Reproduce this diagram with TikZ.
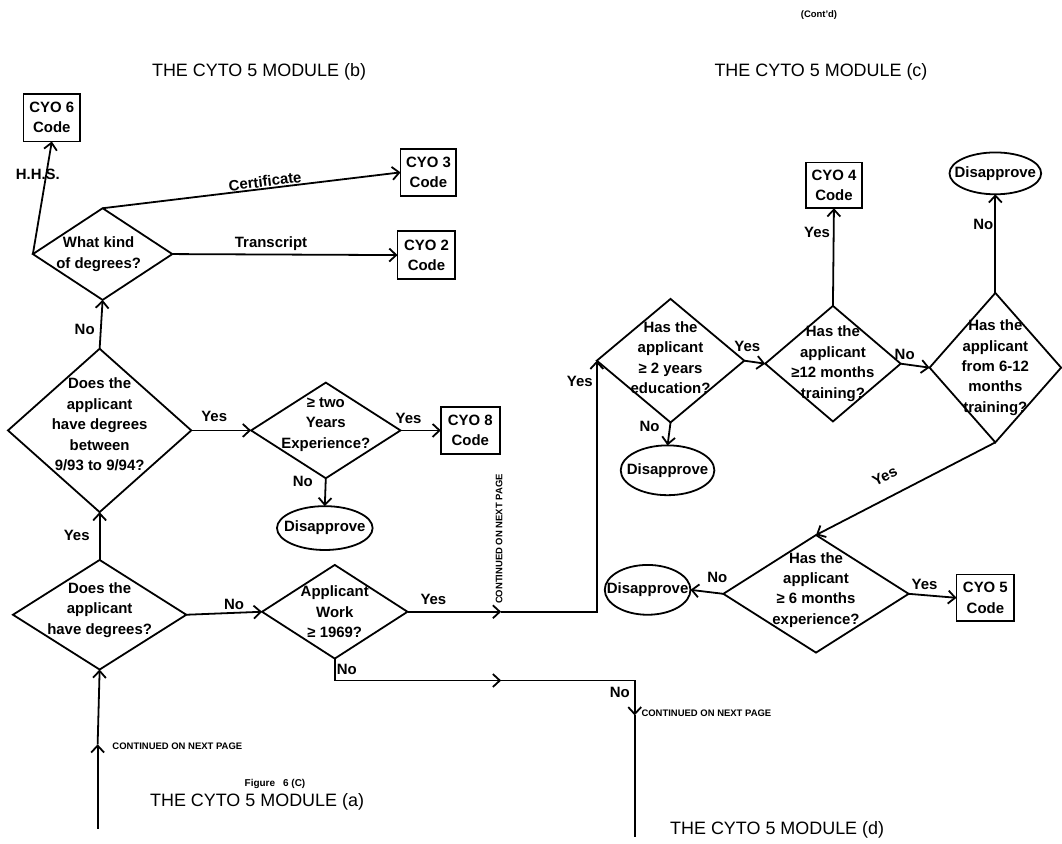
\documentclass[tikz,border=0pt]{standalone}
\usepackage{fontspec}
\setmainfont{Liberation Sans}
\usetikzlibrary{shapes.geometric,arrows.meta}

\begin{document}
\begin{tikzpicture}[x=1pt,y=-1pt,
  line width=1.8pt,
  flow/.style={-{Straight Barb[length=7pt,width=13pt]}},
  base/.style={draw, inner sep=0pt, outer sep=0pt},
  dia/.style={base, diamond},
  box/.style={base, rectangle},
  oval/.style={base, ellipse},
  txt/.style={font=\fontsize{15}{20.5}\selectfont\bfseries, align=center, inner sep=0pt},
  lbl/.style={font=\fontsize{15}{18}\selectfont\bfseries, inner sep=0pt},
  title/.style={font=\fontsize{18}{20}\selectfont, inner sep=0pt},
  tiny/.style={font=\fontsize{9.5}{10}\selectfont\bfseries, inner sep=0pt}
]
% page
\fill[white] (0,0) rectangle (1062,847);

% ---------- module (b) ----------
\node[title] (tb) at (260,72) {THE CYTO 5 MODULE (b)};
\node[dia, minimum width=140, minimum height=92,
  label={[txt, xshift=-4]center:{What kind\\of degrees?}}] (d1) at (103,255) {};
\node[box, minimum width=57, minimum height=48,
  label={[txt]center:{CYO 6\\Code}}] (c6) at (52,118) {};
\node[box, minimum width=56, minimum height=47,
  label={[txt]center:{CYO 3\\Code}}] (c3) at (430,173) {};
\node[box, minimum width=58, minimum height=48,
  label={[txt]center:{CYO 2\\Code}}] (c2) at (428,256) {};
\node[dia, minimum width=184, minimum height=164,
  label={[txt, yshift=6]center:{Does the\\applicant\\have degrees\\between\\9/93 to 9/94?}}] (d2) at (100,432) {};
\node[dia, minimum width=150, minimum height=96,
  label={[txt, yshift=6]center:{≥ two\\Years\\Experience?}}] (d3) at (327,432) {};
\node[box, minimum width=59, minimum height=47,
  label={[txt]center:{CYO 8\\Code}}] (c8) at (472,432) {};
\node[oval, minimum width=96, minimum height=44,
  label={[txt]center:{Disapprove}}] (r1) at (326,530) {};

% ---------- module (a) ----------
\node[dia, minimum width=174, minimum height=110,
  label={[txt, yshift=5]center:{Does the\\applicant\\have degrees?}}] (d4) at (100,617) {};
\node[dia, minimum width=146, minimum height=94,
  label={[txt]center:{Applicant\\Work\\≥ 1969?}}] (d5) at (336,614) {};
\node[tiny, font=\fontsize{10}{11}\selectfont\bfseries] (fig) at (276,787) {Figure\hspace{0.8em}6 (C)};
\node[title] (ta) at (258,805) {THE CYTO 5 MODULE (a)};

% ---------- module (c) ----------
\node[tiny] (cont) at (822,15) {(Cont'd)};
\node[title] (tc) at (824,72) {THE CYTO 5 MODULE (c)};
\node[dia, minimum width=148, minimum height=124,
  label={[txt, yshift=3]center:{Has the\\applicant\\≥ 2 years\\education?}}] (d6) at (673,362) {};
\node[oval, minimum width=94, minimum height=50,
  label={[txt]center:{Disapprove}}] (r2) at (670,472) {};
\node[dia, minimum width=136, minimum height=116,
  label={[txt]center:{Has the\\applicant\\≥12 months\\training?}}] (d7) at (836,365) {};
\node[box, minimum width=56, minimum height=46,
  label={[txt]center:{CYO 4\\Code}}] (c4) at (837,186) {};
\node[dia, minimum width=132, minimum height=150,
  label={[txt]center:{Has the\\applicant\\from 6-12\\months\\training?}}] (d8) at (999,369) {};
\node[oval, minimum width=92, minimum height=42,
  label={[txt]center:{Disapprove}}] (r3) at (999,174) {};
\node[dia, minimum width=186, minimum height=118,
  label={[txt, yshift=4]center:{Has the\\applicant\\≥ 6 months\\experience?}}] (d9) at (819,596) {};
\node[oval, minimum width=86, minimum height=50,
  label={[txt]center:{Disapprove}}] (r4) at (650,592) {};
\node[box, minimum width=58, minimum height=47,
  label={[txt]center:{CYO 5\\Code}}] (c5) at (989,600) {};

% ---------- module (d) ----------
\node[title] (td) at (780,833) {THE CYTO 5 MODULE (d)};

% ---------- connectors ----------
\draw[flow] (d1.west) -- (c6.south);
\draw[flow] (d1.north) -- (c3.west);
\draw[flow] (d1.east) -- (c2.west);
\draw[flow] (d2.north) -- (d1.south);
\draw[flow] (d2.east) -- (d3.west);
\draw[flow] (d3.east) -- (c8.west);
\draw[flow] (d3.south) -- (r1.north);
\draw[flow] (d4.north) -- (d2.south);
\draw[flow] (d4.east) -- (d5.west);

% entry from the previous page
\coordinate (ina) at (98,832);
\coordinate (inb) at (98,747);
\draw[flow] (ina) -- (inb);
\draw[flow] (inb) -- (d4.south);

% Applicant Work: Yes branch
\coordinate (yesmid) at (503,614);
\draw[flow] (d5.east) -- (yesmid);
\draw[flow] (yesmid) -| (d6.west);

% Applicant Work: No branch, continued on next page
\coordinate (nomid) at (503,683);
\coordinate (nodown) at (637,718);
\coordinate (noend) at (637,840);
\draw[flow] (d5.south) |- (nomid);
\draw[flow] (nomid) -| (nodown);
\draw (nodown) -- (noend);

\draw[flow] (d6.east) -- (d7.west);
\draw[flow] (d6.south) -- (r2.north);
\draw[flow] (d7.north) -- (c4.south);
\draw[flow] (d7.east) -- (d8.west);
\draw[flow] (d8.north) -- (r3.south);
\draw[flow] (d8.south) -- (d9.north);
\draw[flow] (d9.west) -- (r4.east);
\draw[flow] (d9.east) -- (c5.west);

% ---------- connector labels ----------
\node[lbl] (lhhs) at (38,175) {H.H.S.};
\node[lbl, rotate=7] (lcert) at (266,182) {Certificate};
\node[lbl] (ltrans) at (272,245) {Transcript};
\node[lbl] (lno1) at (85,331) {No};
\node[lbl] (lyes1) at (215,418) {Yes};
\node[lbl] (lyes2) at (410,420) {Yes};
\node[lbl] (lno2) at (304,483) {No};
\node[lbl] (lyes3) at (77,537) {Yes};
\node[lbl] (lno3) at (235,607) {No};
\node[lbl] (lyes4) at (435,602) {Yes};
\node[lbl] (lno4) at (348,672) {No};
\node[lbl] (lno5) at (622,695) {No};
\node[lbl] (lyes5) at (582,383) {Yes};
\node[lbl] (lyes6) at (750,348) {Yes};
\node[lbl] (lno6) at (652,428) {No};
\node[lbl] (lyes7) at (820,233) {Yes};
\node[lbl] (lno7) at (908,356) {No};
\node[lbl] (lno8) at (987,225) {No};
\node[lbl, rotate=27] (lyes8) at (888,478) {Yes};
\node[lbl] (lno9) at (720,580) {No};
\node[lbl] (lyes9) at (928,587) {Yes};

\node[tiny, anchor=west] (conta) at (112,749) {CONTINUED ON NEXT PAGE};
\node[tiny, rotate=90] (contb) at (501,541) {CONTINUED ON NEXT PAGE};
\node[tiny, anchor=west] (contc) at (643,716) {CONTINUED ON NEXT PAGE};
\end{tikzpicture}
\end{document}
